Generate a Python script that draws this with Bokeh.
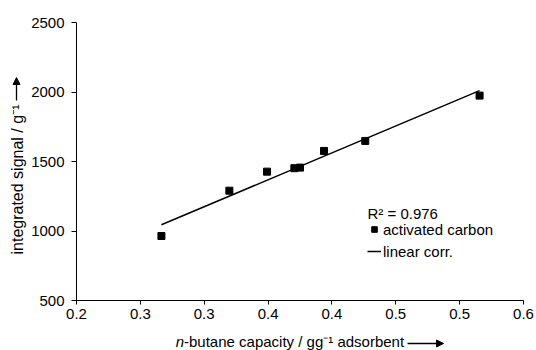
import numpy as np
from bokeh.plotting import figure
from bokeh.models import (Range1d, FixedTicker, Label, Legend, LegendItem,
                          Arrow, NormalHead)
from bokeh.embed import file_html
from bokeh.resources import INLINE

# ---- data ----
capacity = [0.2665, 0.3197, 0.3492, 0.3706, 0.3750, 0.3938, 0.4261, 0.5156]
signal = [964, 1290, 1427, 1452, 1456, 1576, 1648, 1974]

x_ticks = [0.2, 0.25, 0.3, 0.35, 0.4, 0.45, 0.5, 0.55]
x_tick_labels = ["0.2", "0.3", "0.3", "0.4", "0.4", "0.5", "0.5", "0.6"]
y_ticks = [500, 1000, 1500, 2000, 2500]
x_axis_min, x_axis_max = 0.2, 0.55
y_axis_min, y_axis_max = 500, 2500

r2_text = "R\u00b2 = 0.976"
series_label = "activated carbon"
fit_label = "linear corr."
x_title_italic = "n"
x_title_rest = "-butane capacity / gg\u207b\u00b9 adsorbent"
y_title = "integrated signal / g\u207b\u00b9"

FONT = "Liberation Sans"
FS = "15px"

# layout: canvas 536x350, axes box from px 76..523 (x) and 22..300 (y)
W, H = 536, 350
BL, BR, BT, BB = 76, 523, 22, 300
sx = (x_axis_max - x_axis_min) / (BR - BL)
sy = (y_axis_max - y_axis_min) / (BB - BT)
x_range = Range1d(x_axis_min - BL * sx, x_axis_max + (W - BR) * sx)
y_range = Range1d(y_axis_min - (H - BB) * sy, y_axis_max + BT * sy)

# linear correlation computed from the data
slope, intercept = np.polyfit(capacity, signal, 1)
fit_x = [min(capacity), max(capacity)]
fit_y = [slope * v + intercept for v in fit_x]

p = figure(width=W, height=H, x_range=x_range, y_range=y_range,
           output_backend="svg", toolbar_location=None,
           min_border_left=0, min_border_right=0,
           min_border_top=0, min_border_bottom=0)
p.outline_line_color = None
p.grid.visible = False
p.background_fill_color = "white"
p.border_fill_color = "white"

ln = p.line(fit_x, fit_y, line_color="black", line_width=1.5)
sc = p.scatter(capacity, signal, marker="square", size=7,
               fill_color="black", line_color="black")

for ax in (p.xaxis[0], p.yaxis[0]):
    ax.axis_line_color = "black"
    ax.major_tick_line_color = "black"
    ax.minor_tick_line_color = None
    ax.major_tick_in = 0
    ax.major_label_text_font = FONT
    ax.major_label_text_font_size = FS
    ax.major_label_text_color = "black"

xa, ya = p.xaxis[0], p.yaxis[0]
xa.fixed_location = y_axis_min
xa.bounds = (x_axis_min, x_axis_max)
xa.ticker = FixedTicker(ticks=x_ticks)
xa.major_label_overrides = {t: l for t, l in zip(x_ticks, x_tick_labels)}
xa.major_tick_out = 4
xa.major_label_standoff = 4
ya.fixed_location = x_axis_min
ya.bounds = (y_axis_min, y_axis_max)
ya.ticker = FixedTicker(ticks=y_ticks)
ya.major_tick_out = 5
ya.major_label_standoff = 7

# screen coords: x from left, y from bottom of canvas
def lab(cx, cy, text, **kw):
    args = dict(x=cx, y=H - cy, x_units="screen", y_units="screen", text=text,
                text_font=FONT, text_font_size=FS, text_color="black",
                text_baseline="alphabetic", text_align="left")
    args.update(kw)
    p.add_layout(Label(**args))

def arrow(x0, y0, x1, y1):
    p.add_layout(Arrow(x_start=x0, y_start=H - y0, x_end=x1, y_end=H - y1,
                       start_units="screen", end_units="screen",
                       line_color="black", line_width=1.3,
                       end=NormalHead(size=7, fill_color="black", line_color="black")))

# x axis title
lab(183.5, 341, x_title_italic, text_align="right", text_font_style="italic")
lab(183.5, 341, x_title_rest)
arrow(407, 343, 443, 343)

# y axis title
lab(17, 254, y_title, angle=np.pi / 2, text_font_size="16px")
arrow(16, 100, 16, 77)

# R^2 text
lab(367, 213, r2_text)

legend = Legend(items=[LegendItem(label=series_label, renderers=[sc]),
                       LegendItem(label=fit_label, renderers=[ln])],
                location=(367, H - 261),
                border_line_color=None, background_fill_alpha=0,
                padding=0, margin=0, spacing=2,
                glyph_width=14, glyph_height=20, label_height=20,
                label_standoff=2, label_text_font=FONT,
                label_text_font_size=FS, label_text_color="black")
p.add_layout(legend)

open("out.html", "w").write(file_html(p, INLINE))
